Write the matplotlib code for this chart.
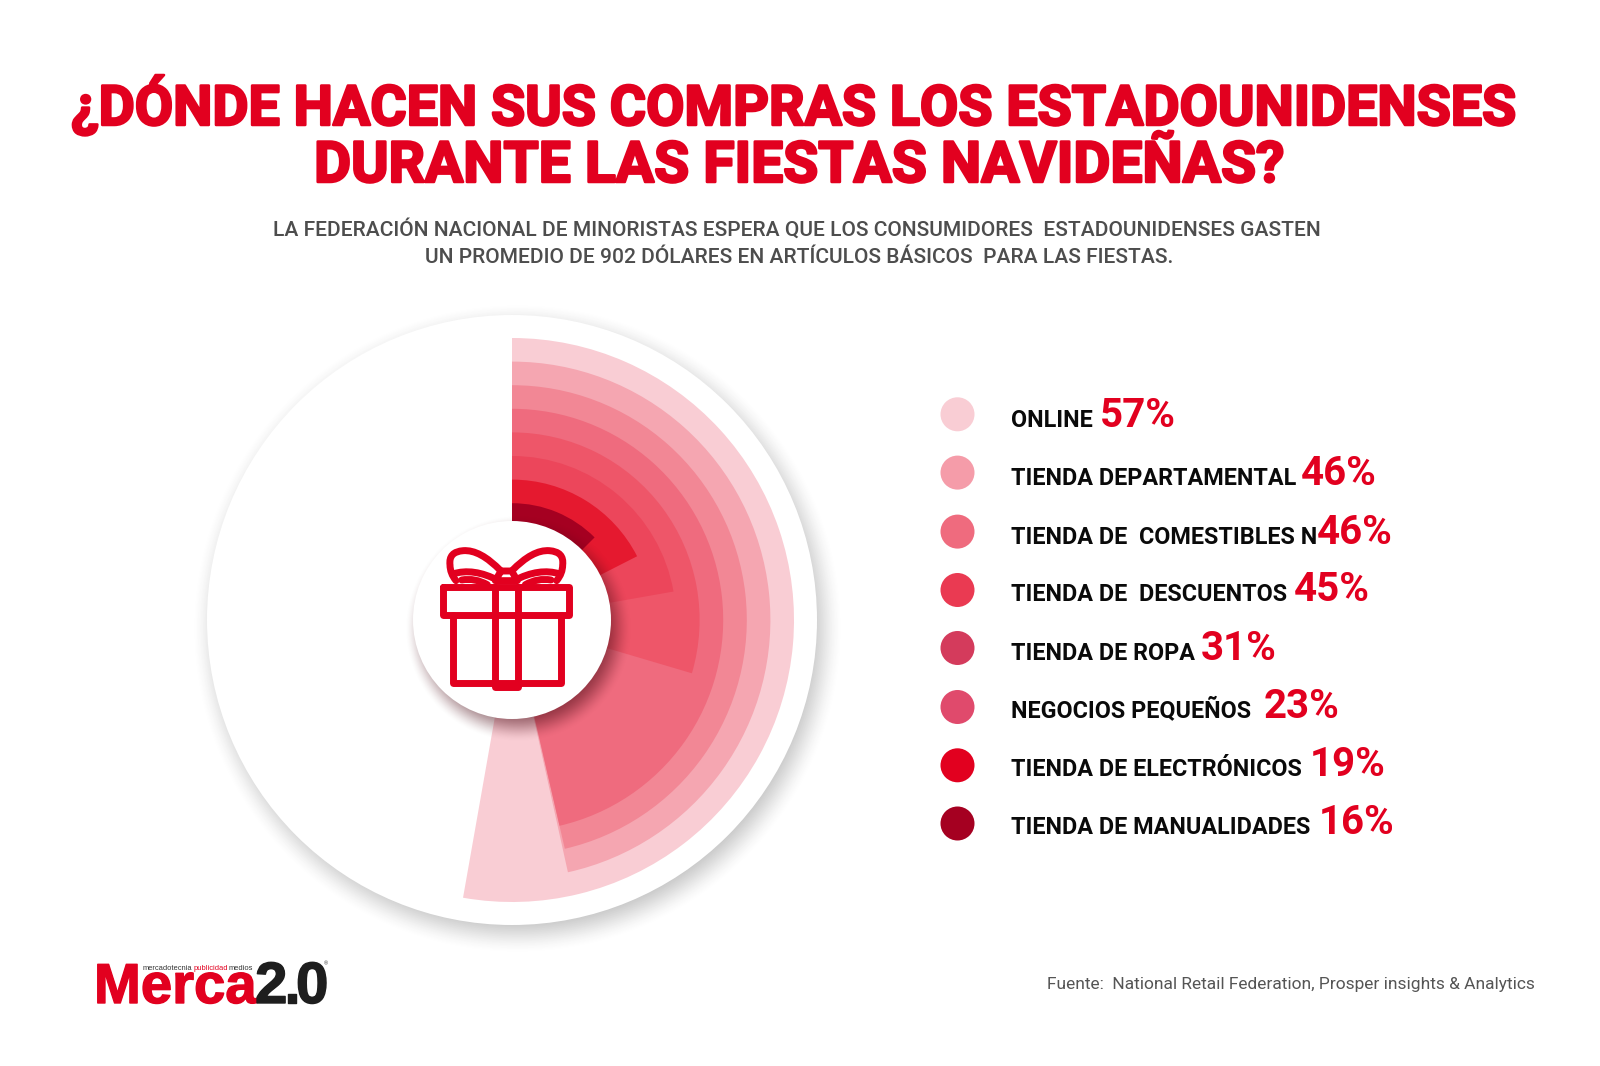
import numpy as np
import matplotlib
matplotlib.use("Agg")
import matplotlib.pyplot as plt
import matplotlib.patheffects as pe
from matplotlib.patches import Circle, PathPatch
from matplotlib.path import Path

# values
categories = ["ONLINE", "TIENDA DEPARTAMENTAL", "TIENDA DE  COMESTIBLES N", "TIENDA DE  DESCUENTOS",
              "TIENDA DE ROPA", "NEGOCIOS PEQUEÑOS", "TIENDA DE ELECTRÓNICOS", "TIENDA DE MANUALIDADES"]
percent = [57, 46, 46, 45, 31, 23, 19, 16]
# the drawn bands do not follow the percentages exactly, sweep is what the picture shows
sweep_deg = [190, 167.5, 167, 167, 106.5, 80, 63, 45]
band_colors = ["#F9CDD4", "#F5A6B1", "#F28795", "#EF6B7E", "#EE5669", "#EC465B", "#E5192F", "#A50021"]
dot_colors = ["#F9CDD4", "#F59CA9", "#EF6B7E", "#EA3A52", "#D43B5C", "#E04A6C", "#E2001F", "#A50021"]

RED = "#E2001F"
W, H = 1600, 1066
CX, CY = 512, 620

fig = plt.figure(figsize=(W / 100, H / 100), dpi=100, facecolor="white")


def pixel_axes(zorder):
    ax = fig.add_axes([0, 0, 1, 1], zorder=zorder)
    ax.set_xlim(0, W)
    ax.set_ylim(H, 0)
    ax.axis("off")
    return ax


def soft_shadow(ax, cx, cy, r, blur, alpha, color, x0, x1, y0, y1):
    # blurred disc as an rgba image
    xs, ys = np.meshgrid(np.arange(x0, x1), np.arange(y0, y1))
    d = np.hypot(xs - cx, ys - cy)
    t = np.clip((r + blur - d) / (2 * blur), 0, 1)
    img = np.zeros(d.shape + (4,))
    img[..., :3] = matplotlib.colors.to_rgb(color)
    img[..., 3] = alpha * t * t * (3 - 2 * t)
    ax.imshow(img, extent=(x0, x1, y1, y0), zorder=1, interpolation="bilinear", aspect="auto")
    ax.set_xlim(0, W)
    ax.set_ylim(H, 0)


# back: big white disc with its shadow
bg = pixel_axes(0)
soft_shadow(bg, CX + 5, CY + 8, 305, 21, 0.3, "#303030", 150, 880, 260, 990)
bg.add_patch(Circle((CX, CY), 305, fc="white", ec="none", zorder=2))

# the bands, on real polar axes
pol = fig.add_axes([(CX - 305) / W, (H - CY - 305) / H, 610 / W, 610 / H], projection="polar", zorder=1)
pol.set_theta_zero_location("N")
pol.set_theta_direction(-1)
pol.set_ylim(0, 305)
pol.set_axis_off()
for i, (s, c) in enumerate(zip(sweep_deg, band_colors)):
    theta = np.deg2rad(s)
    pol.bar(theta / 2, 282 - i * 23.6, width=theta, bottom=0, color=c, linewidth=0)

# front: centre disc, icon, all the text
top = pixel_axes(2)
soft_shadow(top, CX + 6, CY + 8, 99, 15, 0.55, "#4A0A14", 380, 660, 490, 770)
top.add_patch(Circle((CX, CY), 99, fc="white", ec="none", zorder=2))


def z(x, y):
    # coordinates taken from a 3x crop at (400, 510)
    return 400 + x / 3, 510 + y / 3


def icon_path(points, codes):
    top.add_patch(PathPatch(Path([z(*p) for p in points], codes), fc="none", ec=RED, lw=5,
                            joinstyle="round", capstyle="round", zorder=4))


M, L, C3 = Path.MOVETO, Path.LINETO, Path.CURVE3
icon_path([(128, 232), (508, 232), (508, 315), (128, 315), (128, 232)], [M, L, L, L, L])
icon_path([(158, 315), (158, 518), (482, 518), (482, 315)], [M, L, L, L])
icon_path([(284, 232), (284, 530), (354, 530), (354, 232)], [M, L, L, L])
for sign in (1, -1):
    mx = lambda x: 319 + sign * (x - 319)
    icon_path([(mx(303), 183), (mx(240), 118), (mx(190), 122), (mx(145), 125), (mx(150), 165),
               (mx(150), 190), (mx(168), 212)], [M, C3, C3, C3, C3, C3, C3])
    icon_path([(mx(158), 192), (mx(220), 172), (mx(296), 212)], [M, C3, C3])
    icon_path([(mx(185), 210), (mx(225), 203), (mx(262), 224)], [M, C3, C3])
icon_path([(303, 183), (335, 183), (352, 212), (286, 212), (303, 183)], [M, L, L, L, L])

# title and subtitle
heavy = [pe.withStroke(linewidth=1.8, foreground=RED)]
title_font = dict(family="Roboto", weight="bold", color=RED, ha="center", va="baseline", path_effects=heavy)
top.text(793, 125, "¿DÓNDE HACEN SUS COMPRAS LOS ESTADOUNIDENSES", fontsize=40, **title_font)
top.text(800, 182, "DURANTE LAS FIESTAS NAVIDEÑAS?", fontsize=41, **title_font)
sub_font = dict(family="Roboto", weight="medium", color="#4D4D4D", ha="center", va="baseline", fontsize=15.1)
top.text(797, 236, "LA FEDERACIÓN NACIONAL DE MINORISTAS ESPERA QUE LOS CONSUMIDORES  ESTADOUNIDENSES GASTEN", **sub_font)
top.text(799, 263, "UN PROMEDIO DE 902 DÓLARES EN ARTÍCULOS BÁSICOS  PARA LAS FIESTAS.", **sub_font)

# legend
row_y = [426.7, 485, 543.5, 601, 659.5, 717.5, 776, 833.5]
dot_y = [414.3, 472.6, 531.6, 590, 648, 707, 765.3, 823.5]
pct_x = [1100, 1301, 1317, 1294, 1201, 1264, 1310, 1319]
for y, dy, name, p, c, px in zip(row_y, dot_y, categories, percent, dot_colors, pct_x):
    top.add_patch(Circle((957.5, dy), 17, fc=c, ec="none", zorder=3))
    top.text(1011, y, name, family="Roboto", weight="bold", fontsize=16.8, color="#0A0A0A", va="baseline")
    top.text(px, y, f"{p}%", family="Roboto", weight="bold", fontsize=29, color=RED, va="baseline")

# source
top.text(1535, 989, "Fuente:  National Retail Federation, Prosper insights & Analytics", family="Roboto",
         fontsize=12.5, color="#555555", ha="right", va="baseline")

# logo
logo_stroke = [pe.withStroke(linewidth=1, foreground=RED)]
dark_stroke = [pe.withStroke(linewidth=1, foreground="#1E1E1E")]
top.text(94, 1003, "Merca", family="Liberation Sans", weight="bold", fontsize=40.5, color=RED, va="baseline",
         path_effects=logo_stroke)
for x, ch in [(255, "2"), (284, "."), (296, "0")]:
    top.text(x, 1003, ch, family="Liberation Sans", weight="bold", fontsize=42, color="#1E1E1E", va="baseline",
             path_effects=dark_stroke)
top.text(143, 970, "mercadotecnia", family="Liberation Sans", fontsize=5.4, color="#333333", va="baseline")
top.text(193.5, 970, "publicidad", family="Liberation Sans", fontsize=5.4, color=RED, va="baseline")
top.text(228.5, 970, "medios", family="Liberation Sans", fontsize=5.4, color="#333333", va="baseline")
top.text(324, 965, "®", family="Liberation Sans", fontsize=4, color="#333333", va="baseline")

fig.savefig("out.png", dpi=100, facecolor="white")
